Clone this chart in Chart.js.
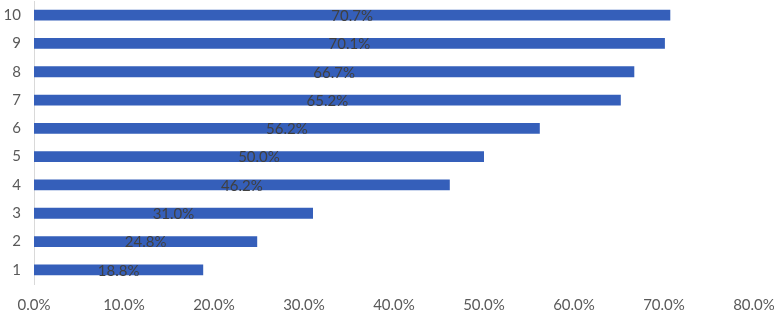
<html>
  <head>
    <script src="https://cdn.jsdelivr.net/npm/chart.js@4"></script>
    <title>bar chart</title>
    <style>
      body { margin: 0; background: #fff; }
      #myChart { position: absolute; left: 0; top: 0; }
    </style>
  </head>
  <body>
    <canvas id="myChart" width="774" height="312"></canvas>
    <script>
const categories = ['1', '2', '3', '4', '5', '6', '7', '8', '9', '10'];
const values = [18.8, 24.8, 31.0, 46.2, 50.0, 56.2, 65.2, 66.7, 70.1, 70.7];
const xTicks = [0, 10, 20, 30, 40, 50, 60, 70, 80];

const fontFamily = "Lato, 'Open Sans', sans-serif";

// draw value labels in the middle of each bar
const barLabels = {
  id: 'barLabels',
  afterDatasetsDraw(chart) {
    const ctx = chart.ctx;
    const meta = chart.getDatasetMeta(0);
    ctx.save();
    ctx.font = '15px ' + fontFamily;
    ctx.fillStyle = '#404040';
    ctx.textAlign = 'center';
    ctx.textBaseline = 'middle';
    meta.data.forEach((bar, i) => {
      const cx = (bar.x + bar.base) / 2;
      ctx.fillText(values[i].toFixed(1) + '%', cx, bar.y + 1);
    });
    ctx.restore();
  }
};

var ctx = document.getElementById('myChart');
var myChart = new Chart(ctx, {
  type: 'bar',
  data: {
    labels: categories,
    datasets: [{
      data: values,
      backgroundColor: '#355FBA',
      borderWidth: 0,
      barPercentage: 0.38,
      categoryPercentage: 1
    }]
  },
  plugins: [barLabels],
  options: {
    indexAxis: 'y',
    responsive: false,
    animation: false,
    layout: { padding: { left: 0, right: 20, top: 1, bottom: 0 } },
    plugins: {
      legend: { display: false },
      tooltip: { enabled: false }
    },
    scales: {
      x: {
        min: 0,
        max: 80,
        afterBuildTicks: (scale) => { scale.ticks = xTicks.map(v => ({ value: v })); },
        afterFit: (scale) => {
          scale.height = 28;
          scale.paddingLeft = 0;
          scale.paddingRight = 0;
        },
        grid: { display: false, tickLength: 0 },
        border: { display: false },
        ticks: {
          color: '#595959',
          padding: 12,
          font: { family: fontFamily, size: 15 },
          callback: (v) => v.toFixed(1) + '%'
        }
      },
      y: {
        reverse: true,
        afterFit: (scale) => {
          scale.width = 34;
          scale.paddingTop = 0;
          scale.paddingBottom = 0;
        },
        grid: { display: false, tickLength: 0 },
        border: { display: true, color: '#D9D9D9', width: 1 },
        ticks: {
          color: '#595959',
          padding: 13,
          font: { family: fontFamily, size: 15 }
        }
      }
    }
  }
});
    </script>
  </body>
</html>
